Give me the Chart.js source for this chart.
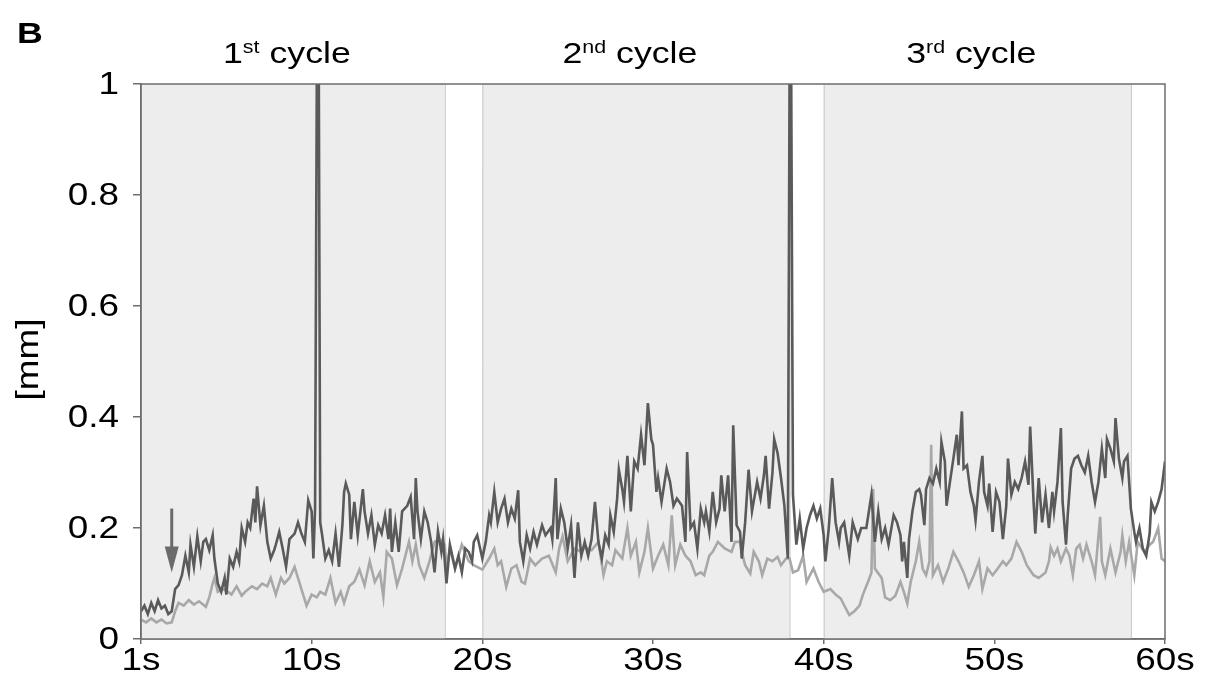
<!DOCTYPE html>
<html>
<head>
<meta charset="utf-8">
<script src="https://cdn.jsdelivr.net/npm/chart.js@4.4.1/dist/chart.umd.min.js"></script>
<style>
  body { margin: 0; background: #fff; }
  #wrap { position: relative; width: 1223px; height: 687px; }
</style>
</head>
<body>
<div id="wrap"><canvas id="cycleChart"></canvas></div>
<script>
// time [s] / displacement [mm]
const darkTrace = [
  [0,0.05],[0.2,0.06],[0.4,0.045],[0.6,0.065],[0.8,0.05],[1.0,0.07],[1.2,0.055],[1.4,0.06],[1.6,0.045],[1.8,0.05],
  [2.0,0.09],[2.2,0.097],[2.4,0.115],[2.6,0.15],[2.8,0.12],[2.9,0.17],[3.1,0.13],[3.3,0.185],[3.5,0.14],[3.65,0.175],
  [3.8,0.18],[4.0,0.16],[4.2,0.187],[4.3,0.145],[4.5,0.10],[4.7,0.085],[4.9,0.11],[5.0,0.08],[5.2,0.145],[5.4,0.13],
  [5.6,0.157],[5.75,0.14],[5.9,0.2],[6.1,0.175],[6.25,0.21],[6.4,0.2],[6.6,0.253],[6.7,0.21],[6.8,0.275],[7.0,0.205],
  [7.2,0.24],[7.4,0.175],[7.6,0.145],[7.8,0.16],[7.9,0.17],[8.1,0.193],[8.3,0.163],[8.5,0.13],[8.7,0.18],[9.0,0.19],
  [9.2,0.21],[9.4,0.19],[9.6,0.175],[9.8,0.25],[10.0,0.23],[10.1,0.145],[10.2,0.235],[10.3,1],[10.42,1],[10.5,0.21],
  [10.6,0.19],[10.8,0.145],[11.0,0.16],[11.2,0.14],[11.4,0.19],[11.6,0.13],[11.8,0.205],[11.9,0.265],[12.0,0.28],[12.2,0.26],
  [12.3,0.18],[12.5,0.247],[12.7,0.187],[13.0,0.27],[13.1,0.23],[13.3,0.19],[13.5,0.223],[13.7,0.17],[13.9,0.205],[14.1,0.19],
  [14.3,0.223],[14.5,0.18],[14.6,0.235],[14.7,0.157],[14.9,0.21],[15.1,0.157],[15.3,0.23],[15.6,0.24],[15.8,0.256],[16.0,0.18],
  [16.1,0.29],[16.2,0.23],[16.4,0.18],[16.6,0.23],[16.8,0.21],[17.0,0.175],[17.2,0.12],[17.4,0.194],[17.6,0.157],[17.7,0.18],
  [17.9,0.1],[18.1,0.17],[18.4,0.127],[18.6,0.15],[18.8,0.12],[19.0,0.163],[19.2,0.157],[19.4,0.14],[19.5,0.175],[19.7,0.187],
  [20.0,0.145],[20.2,0.175],[20.4,0.223],[20.5,0.21],[20.7,0.265],[20.9,0.21],[21.1,0.235],[21.3,0.253],[21.5,0.21],[21.7,0.235],
  [21.9,0.217],[22.1,0.268],[22.2,0.175],[22.4,0.14],[22.6,0.187],[22.8,0.163],[23.0,0.193],[23.2,0.17],[23.5,0.205],[23.7,0.187],
  [24.0,0.2],[24.1,0.18],[24.3,0.29],[24.4,0.18],[24.6,0.235],[24.8,0.21],[25.0,0.163],[25.2,0.205],[25.4,0.11],[25.6,0.21],
  [25.8,0.15],[26.0,0.175],[26.2,0.15],[26.4,0.18],[26.6,0.247],[26.8,0.175],[27.0,0.145],[27.2,0.187],[27.4,0.17],[27.5,0.223],
  [27.7,0.193],[27.9,0.253],[28.0,0.305],[28.2,0.27],[28.3,0.247],[28.5,0.33],[28.7,0.23],[28.9,0.32],[29.1,0.307],[29.3,0.368],
  [29.5,0.313],[29.7,0.425],[29.9,0.36],[30.0,0.35],[30.2,0.265],[30.3,0.29],[30.5,0.247],[30.8,0.307],[31.0,0.283],[31.2,0.24],
  [31.4,0.253],[31.7,0.24],[31.9,0.175],[32.0,0.337],[32.2,0.2],[32.4,0.21],[32.6,0.163],[32.8,0.235],[33.0,0.21],[33.1,0.23],
  [33.3,0.193],[33.5,0.265],[33.7,0.21],[33.9,0.235],[34.0,0.295],[34.2,0.23],[34.4,0.295],[34.6,0.175],[34.7,0.385],[34.9,0.205],
  [35.1,0.193],[35.2,0.145],[35.4,0.21],[35.6,0.305],[35.8,0.23],[36.1,0.283],[36.3,0.253],[36.5,0.295],[36.6,0.33],[36.8,0.235],
  [37.0,0.3],[37.1,0.36],[37.3,0.335],[37.5,0.29],[37.7,0.24],[37.9,0.145],[38.0,1],[38.1,1],[38.2,0.26],[38.4,0.17],
  [38.6,0.217],[38.8,0.163],[39.0,0.2],[39.2,0.223],[39.4,0.24],[39.6,0.217],[39.8,0.235],[40.0,0.187],[40.1,0.14],[40.3,0.2],
  [40.5,0.29],[40.7,0.21],[40.9,0.175],[41.0,0.2],[41.2,0.21],[41.5,0.15],[41.7,0.21],[42.0,0.18],[42.2,0.2],[42.5,0.2],
  [42.7,0.24],[42.8,0.26],[43.0,0.175],[43.2,0.23],[43.4,0.18],[43.6,0.2],[43.8,0.17],[44.1,0.223],[44.3,0.21],[44.5,0.187],
  [44.6,0.14],[44.7,0.175],[44.9,0.11],[45.0,0.18],[45.2,0.23],[45.4,0.265],[45.6,0.27],[45.7,0.26],[45.9,0.205],[46.0,0.27],
  [46.2,0.29],[46.4,0.28],[46.6,0.307],[46.8,0.283],[46.9,0.355],[47.1,0.32],[47.2,0.24],[47.4,0.283],[47.6,0.325],[47.8,0.368],
  [47.9,0.313],[48.1,0.41],[48.2,0.307],[48.4,0.313],[48.6,0.265],[48.8,0.24],[48.9,0.214],[49.1,0.283],[49.3,0.33],[49.4,0.265],
  [49.6,0.24],[49.7,0.28],[49.9,0.193],[50.1,0.265],[50.3,0.247],[50.5,0.18],[50.7,0.24],[50.8,0.325],[51.0,0.26],[51.2,0.283],
  [51.4,0.27],[51.6,0.29],[51.8,0.32],[52.0,0.278],[52.1,0.383],[52.3,0.247],[52.4,0.19],[52.6,0.29],[52.8,0.21],[53.0,0.26],
  [53.2,0.2],[53.4,0.265],[53.5,0.23],[53.7,0.283],[53.9,0.38],[54.0,0.247],[54.2,0.17],[54.3,0.223],[54.5,0.307],[54.7,0.325],
  [54.9,0.33],[55.1,0.313],[55.3,0.3],[55.5,0.33],[55.7,0.283],[55.9,0.247],[56.1,0.283],[56.3,0.343],[56.5,0.29],[56.6,0.36],
  [56.8,0.343],[57.0,0.32],[57.1,0.398],[57.3,0.325],[57.5,0.29],[57.6,0.32],[57.8,0.33],[58.0,0.235],[58.2,0.193],[58.3,0.175],
  [58.5,0.2],[58.7,0.163],[58.9,0.15],[59.1,0.19],[59.2,0.247],[59.4,0.23],[59.6,0.247],[59.8,0.27],[60.0,0.32]
];

const lightTrace = [
  [0,0.035],[0.3,0.03],[0.6,0.037],[0.9,0.03],[1.2,0.035],[1.5,0.028],[1.8,0.03],[2.0,0.05],[2.2,0.065],[2.5,0.06],
  [2.8,0.07],[3.1,0.062],[3.4,0.068],[3.8,0.058],[4.0,0.075],[4.2,0.1],[4.3,0.11],[4.5,0.085],[4.8,0.09],[5.1,0.085],
  [5.3,0.08],[5.6,0.095],[5.9,0.078],[6.1,0.085],[6.5,0.095],[6.8,0.09],[7.1,0.1],[7.4,0.095],[7.6,0.11],[7.9,0.08],
  [8.2,0.11],[8.4,0.1],[8.7,0.11],[9.0,0.13],[9.4,0.09],[9.7,0.06],[10.0,0.08],[10.3,0.075],[10.5,0.085],[10.8,0.08],
  [11.1,0.11],[11.4,0.065],[11.7,0.085],[11.9,0.065],[12.2,0.095],[12.5,0.103],[12.8,0.125],[13.1,0.097],[13.4,0.14],[13.7,0.103],
  [14.0,0.12],[14.2,0.076],[14.4,0.157],[14.7,0.145],[15.0,0.097],[15.3,0.127],[15.7,0.175],[15.9,0.14],[16.1,0.17],[16.3,0.133],
  [16.6,0.11],[16.9,0.14],[17.2,0.175],[17.5,0.18],[17.8,0.17],[17.9,0.127],[18.1,0.163],[18.4,0.127],[18.8,0.17],[19.2,0.14],
  [19.5,0.133],[20.0,0.125],[20.4,0.145],[20.7,0.163],[20.9,0.133],[21.1,0.14],[21.4,0.094],[21.7,0.127],[22.0,0.133],[22.3,0.103],
  [22.5,0.1],[22.8,0.145],[23.1,0.133],[23.5,0.145],[23.9,0.15],[24.3,0.12],[24.5,0.163],[24.7,0.185],[25.0,0.14],[25.4,0.163],
  [25.8,0.157],[26.0,0.165],[26.4,0.16],[26.8,0.175],[27.1,0.115],[27.3,0.14],[27.6,0.133],[27.8,0.16],[28.2,0.145],[28.5,0.2],
  [28.7,0.15],[29.0,0.175],[29.2,0.12],[29.5,0.157],[29.7,0.2],[30.0,0.127],[30.3,0.15],[30.6,0.17],[30.9,0.133],[31.1,0.223],
  [31.3,0.133],[31.6,0.17],[31.9,0.15],[32.2,0.14],[32.5,0.115],[32.8,0.12],[33.0,0.115],[33.3,0.15],[33.5,0.157],[33.8,0.175],
  [34.2,0.163],[34.6,0.157],[34.8,0.175],[35.1,0.175],[35.2,0.157],[35.4,0.133],[35.7,0.118],[35.9,0.157],[36.2,0.14],[36.4,0.115],
  [36.7,0.145],[37.0,0.14],[37.3,0.148],[37.5,0.133],[37.8,0.145],[38.0,0.145],[38.2,0.12],[38.5,0.124],[38.8,0.15],[39.0,0.103],
  [39.4,0.127],[39.7,0.103],[40.0,0.085],[40.4,0.09],[40.7,0.08],[41.0,0.073],[41.3,0.055],[41.5,0.043],[41.8,0.05],[42.1,0.06],
  [42.3,0.08],[42.6,0.103],[42.8,0.12],[42.9,0.27],[43.0,0.127],[43.4,0.11],[43.6,0.075],[43.9,0.07],[44.2,0.078],[44.5,0.103],
  [44.7,0.085],[44.9,0.064],[45.1,0.103],[45.4,0.14],[45.6,0.175],[45.8,0.127],[46.0,0.115],[46.2,0.14],[46.3,0.35],[46.4,0.115],
  [46.7,0.133],[47.0,0.103],[47.3,0.127],[47.6,0.157],[47.9,0.14],[48.2,0.12],[48.5,0.094],[48.8,0.115],[49.1,0.14],[49.3,0.09],
  [49.6,0.127],[49.9,0.115],[50.2,0.127],[50.5,0.14],[50.7,0.133],[51.0,0.145],[51.3,0.175],[51.6,0.157],[51.9,0.133],[52.3,0.115],
  [52.6,0.11],[53.0,0.12],[53.2,0.14],[53.3,0.165],[53.5,0.15],[53.7,0.163],[53.9,0.14],[54.2,0.163],[54.4,0.15],[54.6,0.115],
  [54.8,0.163],[55.0,0.17],[55.2,0.145],[55.4,0.17],[55.7,0.14],[55.9,0.115],[56.2,0.22],[56.3,0.14],[56.5,0.115],[56.8,0.163],
  [57.1,0.12],[57.4,0.157],[57.5,0.187],[57.7,0.14],[57.9,0.175],[58.2,0.115],[58.4,0.175],[58.8,0.157],[59.1,0.17],[59.3,0.175],
  [59.6,0.2],[59.8,0.145],[60.0,0.14]
];

// shaded cycles [start, end] in seconds
const cycleBands = [[0, 17.8], [20, 38], [40, 58]];
const cycleNumbers = ['1', '2', '3'];
const cycleSuffixes = ['st', 'nd', 'rd'];

const xTickValues = [0, 10, 20, 30, 40, 50, 60];
const xTickLabels = ['1s', '10s', '20s', '30s', '40s', '50s', '60s'];
const yTickValues = [0, 0.2, 0.4, 0.6, 0.8, 1];
const yTickLabels = ['0', '0.2', '0.4', '0.6', '0.8', '1'];

// arrow marking the onset: time, top value, tip value
const onsetArrow = [1.8, 0.235, 0.12];

const FONT = "'Liberation Sans', Arial, sans-serif";
const WIDEN = 1.19; // the figure's lettering runs wider than Arial

// draws text widened along its own direction
function wideText(ctx, text, x, y, align, font) {
  ctx.save();
  ctx.font = font;
  ctx.translate(x, y);
  ctx.scale(WIDEN, 1);
  ctx.textAlign = align;
  ctx.fillText(text, 0, 0);
  ctx.restore();
  ctx.font = font;
  return ctx.measureText(text).width * WIDEN;
}

const bandsPlugin = {
  id: 'bands',
  beforeDatasetsDraw(chart) {
    const { ctx, chartArea: a, scales: { x } } = chart;
    ctx.save();
    cycleBands.forEach(b => {
      const x0 = x.getPixelForValue(b[0]);
      const x1 = x.getPixelForValue(b[1]);
      ctx.fillStyle = '#ededed';
      ctx.fillRect(x0, a.top, x1 - x0, a.bottom - a.top);
      ctx.strokeStyle = '#c6c6c6';
      ctx.lineWidth = 1;
      ctx.beginPath();
      ctx.moveTo(x0 + 0.5, a.top); ctx.lineTo(x0 + 0.5, a.bottom);
      ctx.moveTo(x1 + 0.5, a.top); ctx.lineTo(x1 + 0.5, a.bottom);
      ctx.stroke();
    });
    ctx.restore();
  },
  afterDraw(chart) {
    const { ctx, chartArea: a, scales: { x, y } } = chart;
    ctx.save();
    // frame
    ctx.strokeStyle = '#6e6e6e';
    ctx.lineWidth = 1.5;
    ctx.strokeRect(a.left, a.top, a.right - a.left, a.bottom - a.top);

    ctx.fillStyle = '#000';
    ctx.textBaseline = 'alphabetic';
    const big = '31px ' + FONT;

    // tick labels
    xTickValues.forEach((v, i) => {
      wideText(ctx, xTickLabels[i], x.getPixelForValue(v), 670, 'center', big);
    });
    yTickValues.forEach((v, i) => {
      wideText(ctx, yTickLabels[i], a.left - 22, y.getPixelForValue(v) + 10, 'right', big);
    });

    // axis title
    ctx.save();
    ctx.translate(38, (a.top + a.bottom) / 2 - 2);
    ctx.rotate(-Math.PI / 2);
    wideText(ctx, '[mm]', 0, 0, 'center', big);
    ctx.restore();

    // cycle titles
    cycleBands.forEach((b, i) => {
      const mid = x.getPixelForValue((b[0] + b[1]) / 2) - 6;
      ctx.font = '30px ' + FONT;
      const w1 = ctx.measureText(cycleNumbers[i]).width * WIDEN;
      const w3 = ctx.measureText(' cycle').width * WIDEN;
      ctx.font = '18px ' + FONT;
      const w2 = ctx.measureText(cycleSuffixes[i]).width * WIDEN;
      const px = mid - (w1 + w2 + w3) / 2;
      wideText(ctx, cycleNumbers[i], px, 63, 'left', '30px ' + FONT);
      wideText(ctx, cycleSuffixes[i], px + w1, 53, 'left', '18px ' + FONT);
      wideText(ctx, ' cycle', px + w1 + w2, 63, 'left', '30px ' + FONT);
    });

    // panel letter
    wideText(ctx, 'B', 17, 43, 'left', 'bold 30px ' + FONT);

    // onset arrow
    const ax = x.getPixelForValue(onsetArrow[0]);
    const ay0 = y.getPixelForValue(onsetArrow[1]);
    const ay1 = y.getPixelForValue(onsetArrow[2]);
    ctx.strokeStyle = '#6b6b6b';
    ctx.fillStyle = '#6b6b6b';
    ctx.lineWidth = 3;
    ctx.beginPath();
    ctx.moveTo(ax, ay0); ctx.lineTo(ax, ay1 - 20);
    ctx.stroke();
    ctx.beginPath();
    ctx.moveTo(ax - 7, ay1 - 26);
    ctx.lineTo(ax + 7, ay1 - 26);
    ctx.lineTo(ax, ay1);
    ctx.closePath();
    ctx.fill();
    ctx.restore();
  }
};

new Chart(document.getElementById('cycleChart'), {
  type: 'line',
  data: {
    datasets: [
      {
        label: 'dark',
        data: darkTrace.map(p => ({ x: p[0], y: p[1] })),
        borderColor: '#5a5a5a',
        borderWidth: 2.6,
        pointRadius: 0,
        tension: 0
      },
      {
        label: 'light',
        data: lightTrace.map(p => ({ x: p[0], y: p[1] })),
        borderColor: '#a8a8a8',
        borderWidth: 2.6,
        pointRadius: 0,
        tension: 0
      }
    ]
  },
  options: {
    responsive: true,
    maintainAspectRatio: false,
    animation: false,
    layout: { padding: { top: 84, right: 58, left: 0, bottom: 0 } },
    plugins: { legend: { display: false }, tooltip: { enabled: false } },
    scales: {
      x: {
        type: 'linear',
        min: 0,
        max: 60,
        afterBuildTicks: s => { s.ticks = xTickValues.map(v => ({ value: v })); },
        afterFit: s => { s.height = 48; },
        ticks: { display: false, autoSkip: false, maxRotation: 0 },
        grid: { display: true, drawOnChartArea: false, drawTicks: true, tickLength: 5, color: '#6e6e6e', lineWidth: 1.5 },
        border: { display: true, color: '#6e6e6e', width: 1.5 }
      },
      y: {
        min: 0,
        max: 1,
        afterBuildTicks: s => { s.ticks = yTickValues.map(v => ({ value: v })); },
        afterFit: s => { s.width = 141; },
        ticks: { display: false },
        grid: { display: true, drawOnChartArea: false, drawTicks: true, tickLength: 8, color: '#6e6e6e', lineWidth: 1.5 },
        border: { display: true, color: '#6e6e6e', width: 1.5 }
      }
    }
  },
  plugins: [bandsPlugin]
});
</script>
</body>
</html>
